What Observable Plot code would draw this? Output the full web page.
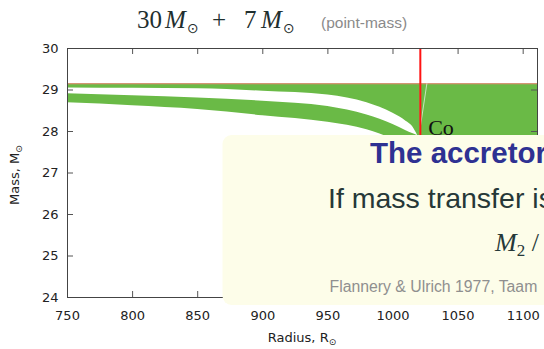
<!DOCTYPE html>
<html>
<head>
<meta charset="utf-8">
<script src="https://cdn.jsdelivr.net/npm/d3@7"></script>
<script src="https://cdn.jsdelivr.net/npm/@observablehq/plot@0.6"></script>
<style>
  html, body { margin: 0; padding: 0; background: #fff; overflow: hidden; width: 544px; height: 349px; }
  #chart svg { display: block; }
</style>
</head>
<body>
<div id="chart"></div>
<script>
// Axis ranges and tick values
const radiusRange = [750, 1111];
const massRange = [24, 30];
const xTicks = [750, 800, 850, 900, 950, 1000, 1050, 1100];
const yTicks = [24, 25, 26, 27, 28, 29, 30];

// Upper mass plateau and the radius of the vertical contact line
const plateauMass = 29.15;
const contactRadius = 1021;

// Lower edge of the green band left of the contact line
const bandRadius = [750, 800, 850, 900, 950, 980, 1000, 1010, 1021];
const bandLower  = [28.69, 28.62, 28.53, 28.38, 28.22, 28.04, 27.80, 27.60, 27.30];

// White gap cutting through the green band
const gapRadius = [750, 800, 850, 900, 950, 980, 1000, 1010, 1015, 1019];
const gapUpper  = [29.05, 29.04, 29.03, 28.97, 28.88, 28.69, 28.44, 28.25, 28.12, 27.90];
const gapLower  = [28.91, 28.86, 28.81, 28.73, 28.60, 28.40, 28.17, 28.02, 27.95, 27.90];

// Faint seam right of the contact line
const seamRadius = [1021, 1026];
const seamMass = [28.11, plateauMass];

// Curve annotation
const notes = [{r: 1027, m: 28.09, label: "Co"}];

const green = "#6aba46";

const band = bandRadius.map((r, i) => ({r, lo: bandLower[i], hi: plateauMass}));
const gap = gapRadius.map((r, i) => ({r, lo: gapLower[i], hi: gapUpper[i]}));
const plateau = [{r1: contactRadius, r2: radiusRange[1], m1: massRange[0], m2: plateauMass}];
const seam = seamRadius.map((r, i) => ({r, m: seamMass[i]}));

const W = 544, H = 349;
const margin = {top: 48, right: 7, bottom: 52, left: 67};
const innerW = W - margin.left - margin.right;
const innerH = H - margin.top - margin.bottom;
const tickLen = 6;

const chart = Plot.plot({
  width: W,
  height: H,
  marginTop: margin.top,
  marginRight: margin.right,
  marginBottom: margin.bottom,
  marginLeft: margin.left,
  x: {domain: radiusRange, label: null},
  y: {domain: massRange, label: null},
  style: {fontFamily: "'DejaVu Sans', sans-serif", fontSize: "13px", color: "#222", background: "#fff"},
  marks: [
    Plot.areaY(band, {x: "r", y1: "lo", y2: "hi", fill: green, curve: "monotone-x"}),
    Plot.rect(plateau, {x1: "r1", x2: "r2", y1: "m1", y2: "m2", fill: green}),
    Plot.areaY(gap, {x: "r", y1: "lo", y2: "hi", fill: "#fff", curve: "monotone-x"}),
    Plot.ruleY([plateauMass], {stroke: "#ec8474", strokeWidth: 1}),
    Plot.line(seam, {x: "r", y: "m", stroke: "#fff", strokeWidth: 0.8, strokeOpacity: 0.8}),
    Plot.ruleX([contactRadius], {stroke: "#ff1414", strokeWidth: 2}),
    Plot.text(notes, {x: "r", y: "m", text: "label", textAnchor: "start", lineAnchor: "middle",
      fontFamily: "'Liberation Serif', serif", fontSize: 22, fill: "#111"}),
    // inward ticks on all four sides
    Plot.tickX(xTicks, {x: d => d, insetTop: innerH - tickLen, stroke: "#555"}),
    Plot.tickX(xTicks, {x: d => d, insetBottom: innerH - tickLen, stroke: "#555"}),
    Plot.tickY(yTicks, {y: d => d, insetRight: innerW - tickLen, stroke: "#555"}),
    Plot.tickY(yTicks, {y: d => d, insetLeft: innerW - tickLen, stroke: "#555"}),
    Plot.frame({stroke: "#444"}),
    Plot.axisX(xTicks, {anchor: "bottom", tickSize: 0, tickPadding: 13, fontSize: 13, tickFormat: d => String(d)}),
    Plot.axisY(yTicks, {anchor: "left", tickSize: 0, tickPadding: 9, fontSize: 13, tickFormat: d => String(d)})
  ]
});

document.getElementById("chart").append(chart);
const svg = d3.select(chart);

// Helper for free text placed at a start anchor
function label(parent, x, y, size, family, fill) {
  return parent.append("text")
    .attr("x", x).attr("y", y)
    .attr("text-anchor", "start")
    .attr("font-family", family).attr("font-size", size).attr("fill", fill);
}
const SANS = "'Liberation Sans', Arial, sans-serif";
const SERIF = "'Liberation Serif', 'DejaVu Serif', serif";
const DEJAVU = "'DejaVu Sans', sans-serif";

// Axis labels with solar subscripts
const xLab = label(svg, margin.left + innerW / 2, 342, 13, DEJAVU, "#222").attr("text-anchor", "middle");
xLab.append("tspan").text("Radius, R");
xLab.append("tspan").attr("font-size", 9).attr("dy", 3).text("\u2299");

const yLab = label(svg, 0, 0, 13, DEJAVU, "#222")
  .attr("transform", "translate(19,175) rotate(-90)")
  .attr("text-anchor", "middle");
yLab.append("tspan").text("Mass, M");
yLab.append("tspan").attr("font-size", 9).attr("dy", 3).text("\u2299");

// Title
const title = label(svg, 137, 28, 25, SERIF, "#1f2f2f");
title.append("tspan").attr("x", 137).text("30");
title.append("tspan").attr("x", 165).attr("font-style", "italic").text("M");
title.append("tspan").attr("x", 187).attr("dy", 5).attr("font-size", 14).attr("font-family", DEJAVU).text("\u2299");
title.append("tspan").attr("x", 212).attr("dy", -5).text("+");
title.append("tspan").attr("x", 244).text("7");
title.append("tspan").attr("x", 261).attr("font-style", "italic").text("M");
title.append("tspan").attr("x", 283).attr("dy", 5).attr("font-size", 14).attr("font-family", DEJAVU).text("\u2299");
title.append("tspan").attr("x", 321).attr("dy", -5).attr("font-size", 15.5)
  .attr("font-family", SANS).attr("fill", "#8a8a8a").text("(point-mass)");

// Callout panel laid over the lower right of the chart
const panel = svg.append("g");
panel.append("rect")
  .attr("x", 222.5).attr("y", 135).attr("width", 400).attr("height", 170).attr("rx", 9)
  .attr("fill", "#fdfde9");
label(panel, 370, 163, 29.5, SANS, "#2e3192").attr("font-weight", "bold").text("The accretor");
label(panel, 328, 208, 28.5, SANS, "#263838").text("If mass transfer is");
const ratio = label(panel, 495, 251, 26, SERIF, "#263838");
ratio.append("tspan").attr("font-style", "italic").text("M");
ratio.append("tspan").attr("font-size", 17).attr("dy", 5).text("2");
ratio.append("tspan").attr("dy", -5).text(" /");
label(panel, 329.5, 292, 15.8, SANS, "#8f8f8f").text("Flannery & Ulrich 1977, Taam");
</script>
</body>
</html>
